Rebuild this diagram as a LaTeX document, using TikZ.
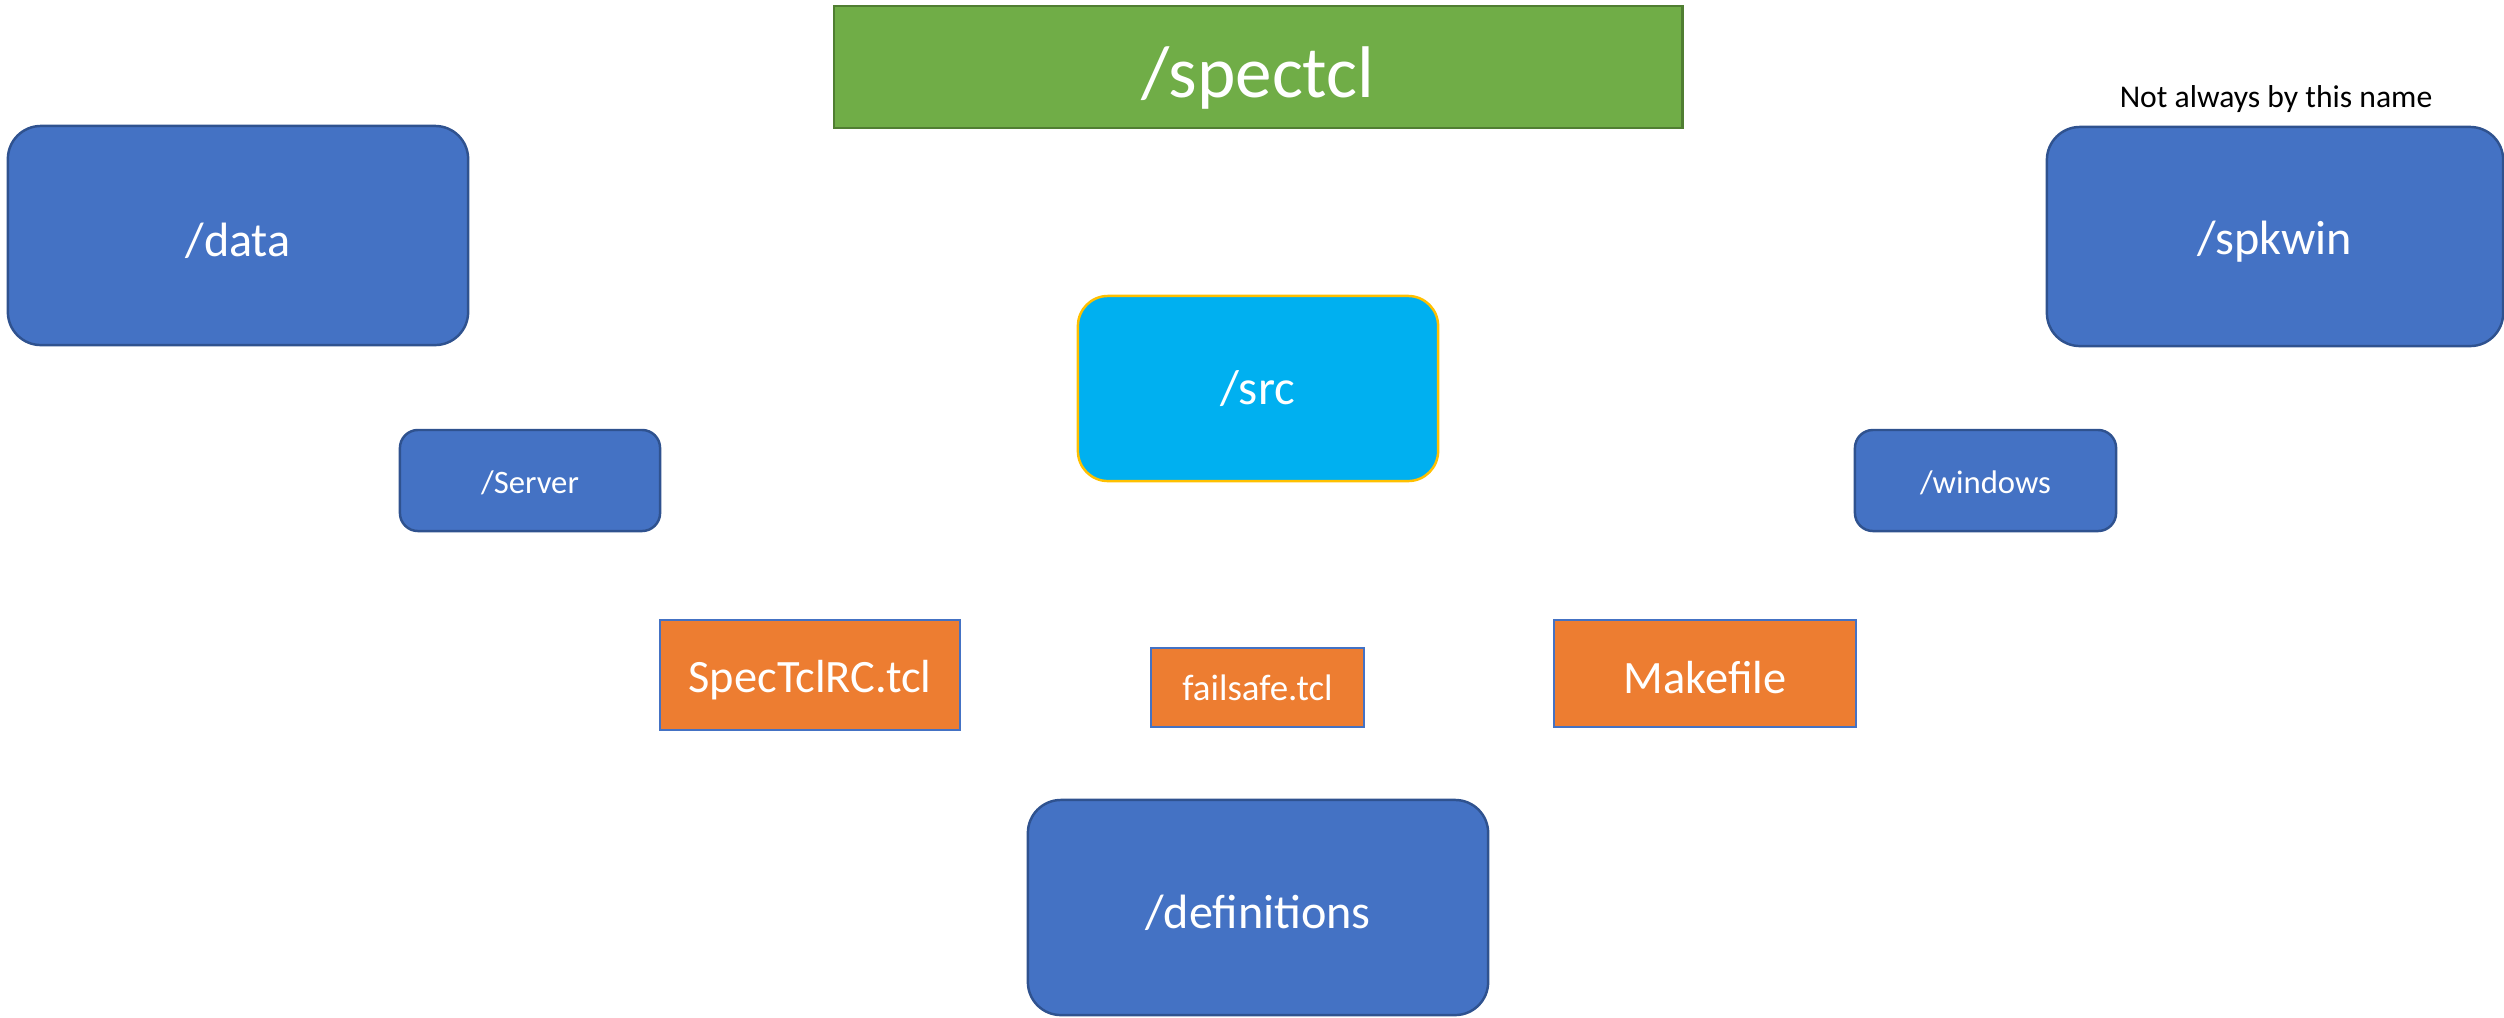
\documentclass[tikz,border=0pt]{standalone}
\usepackage{fontspec}
\setmainfont{Carlito}
\definecolor{bluefill}{HTML}{4472C4}
\definecolor{blueline}{HTML}{2F528F}
\definecolor{greenfill}{HTML}{70AD47}
\definecolor{greenline}{HTML}{507E32}
\definecolor{cyanfill}{HTML}{00B0F0}
\definecolor{goldline}{HTML}{FFC000}
\definecolor{orangefill}{HTML}{ED7D31}
\newcommand{\lowtext}[2]{\raisebox{-#1}[\height][\depth]{#2}}
\tikzset{
  base/.style={inner sep=0pt, outer sep=0pt, text=white, line width=0.7pt, align=center},
  bigblue/.style={base, draw=blueline, fill=bluefill, rounded corners=0.33cm, font=\fontsize{13.7}{16}\selectfont},
  smallblue/.style={base, draw=blueline, fill=bluefill, rounded corners=0.18cm, font=\fontsize{9.3}{11}\selectfont},
  srcbox/.style={base, draw=goldline, fill=cyanfill, rounded corners=0.30cm, font=\fontsize{13.9}{16}\selectfont},
  filebox/.style={base, draw=bluefill, fill=orangefill},
  topbox/.style={base, draw=greenline, fill=greenfill, font=\fontsize{20.8}{24}\selectfont}
}
\begin{document}
\begin{tikzpicture}[x=0.01cm, y=-0.01cm]
\useasboundingbox (0,0) rectangle (2504,1017);
\node[topbox, minimum width=8.48cm, minimum height=1.22cm] (spectcl) at (1258,67) {\lowtext{3pt}{/spectcl}};
\node[bigblue, minimum width=4.60cm, minimum height=2.19cm] (data) at (238,235.5) {\lowtext{1.4pt}{/data}};
\node[bigblue, minimum width=4.56cm, minimum height=2.19cm] (spkwin) at (2275,236.5) {\lowtext{1.4pt}{/spkwin}};
\node[inner sep=0pt, font=\fontsize{9}{11}\selectfont] (note) at (2276,99) {Not always by this name};
\node[srcbox, minimum width=3.60cm, minimum height=1.85cm] (src) at (1258,388.5) {/src};
\node[smallblue, minimum width=2.60cm, minimum height=1.01cm] (server) at (530,480.5) {\lowtext{0.8pt}{/Server}};
\node[smallblue, minimum width=2.61cm, minimum height=1.01cm] (windows) at (1985.5,480.5) {\lowtext{0.8pt}{/windows}};
\node[filebox, minimum width=3.00cm, minimum height=1.10cm, font=\fontsize{13.2}{15}\selectfont] (rc) at (810,675) {\lowtext{1.4pt}{SpecTclRC.tcl}};
\node[filebox, minimum width=2.13cm, minimum height=0.79cm, font=\fontsize{10.5}{12}\selectfont] (failsafe) at (1257.5,687.5) {failsafe.tcl};
\node[filebox, minimum width=3.02cm, minimum height=1.07cm, font=\fontsize{13.2}{15}\selectfont] (make) at (1705,673.5) {\lowtext{1.2pt}{Makefile}};
\node[bigblue, minimum width=4.60cm, minimum height=2.15cm] (defs) at (1258,907.5) {\lowtext{1.4pt}{/definitions}};
\end{tikzpicture}
\end{document}
